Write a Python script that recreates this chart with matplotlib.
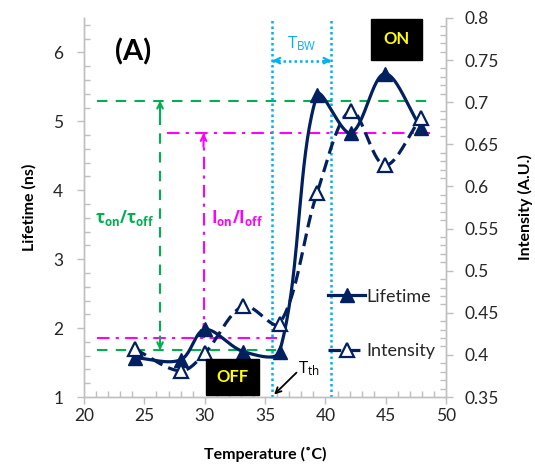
import numpy as np
import matplotlib
matplotlib.use("Agg")
import matplotlib.pyplot as plt
from matplotlib.lines import Line2D
from matplotlib.ticker import MultipleLocator, FormatStrFormatter

plt.rcParams["font.family"] = ["Lato", "DejaVu Sans"]
plt.rcParams["mathtext.fontset"] = "custom"
plt.rcParams["mathtext.rm"] = "Open Sans"
plt.rcParams["mathtext.bf"] = "Open Sans:bold"
plt.rcParams["mathtext.it"] = "Open Sans:italic"

# data
temp = [24.2, 28.0, 30.0, 33.2, 36.2, 39.3, 42.1, 44.9, 47.9]
lifetime = [1.57, 1.54, 1.98, 1.66, 1.66, 5.38, 4.83, 5.69, 4.91]
intensity = [0.407, 0.381, 0.402, 0.458, 0.437, 0.592, 0.690, 0.625, 0.681]

# guide levels (left axis units) and transition temperatures
tau_on, tau_off = 5.30, 1.68
i_on, i_off = 4.83, 1.86
t_th, t_end = 35.6, 40.5

NAVY = "#002060"
GREEN = "#00b050"
MAGENTA = "#ff00ff"
CYAN = "#00b0f0"
GREY = "#bfbfbf"
TXT = "#262626"


def smooth(x, y, xspan, yspan, n=40):
    # Excel-like smoothed line: cubic Bezier through the points with
    # chord-length scaled tangents, computed in screen-like units
    sx, sy = 362.0 / xspan, 379.0 / yspan
    p = np.column_stack([np.asarray(x, float) * sx, np.asarray(y, float) * sy])
    m = len(p)
    d = np.linalg.norm(np.diff(p, axis=0), axis=1)
    tang = np.zeros_like(p)
    for i in range(m):
        if i == 0:
            tang[i] = (p[1] - p[0]) / d[0]
        elif i == m - 1:
            tang[i] = (p[-1] - p[-2]) / d[-1]
        else:
            tang[i] = (p[i + 1] - p[i - 1]) / (d[i - 1] + d[i])
    t = np.linspace(0, 1, n)[:, None]
    segs = []
    for i in range(m - 1):
        b0, b3 = p[i], p[i + 1]
        b1 = b0 + tang[i] * d[i] / 3
        b2 = b3 - tang[i + 1] * d[i] / 3
        segs.append((1 - t) ** 3 * b0 + 3 * (1 - t) ** 2 * t * b1
                    + 3 * (1 - t) * t ** 2 * b2 + t ** 3 * b3)
    c = np.vstack(segs)
    return c[:, 0] / sx, c[:, 1] / sy


fig = plt.figure(figsize=(5.35, 4.71), dpi=100)
ax = fig.add_axes([0.157, 0.157, 0.677, 0.805])
ax2 = ax.twinx()

ax.set_xlim(20, 50)
ax.set_ylim(1, 6.5)
ax2.set_ylim(0.35, 0.8)
ax.xaxis.set_major_locator(MultipleLocator(5))
ax.xaxis.set_minor_locator(MultipleLocator(1))
ax.yaxis.set_major_locator(MultipleLocator(1))
ax.yaxis.set_minor_locator(MultipleLocator(0.2))
ax2.yaxis.set_major_locator(MultipleLocator(0.05))
ax2.yaxis.set_minor_locator(MultipleLocator(0.01))
ax2.yaxis.set_major_formatter(FormatStrFormatter("%g"))

for a in (ax, ax2):
    for s in a.spines.values():
        s.set_color(GREY)
        s.set_linewidth(1.0)
    a.spines["top"].set_visible(False)
    a.tick_params(which="major", direction="out", length=5, color=GREY,
                  labelsize=12.5, labelcolor=TXT, width=1)
    a.tick_params(which="minor", direction="in", length=4, color=GREY,
                  width=1)
ax.tick_params(axis="x", pad=3)
ax.tick_params(axis="y", pad=10)
ax2.tick_params(axis="y", pad=8)

ax.set_xlabel("Temperature (˚C)", fontsize=11.5, fontweight="bold",
              labelpad=16)
ax.set_ylabel("Lifetime (ns)", fontsize=11.5, fontweight="bold", labelpad=12)
ax2.set_ylabel("Intensity (A.U.)", fontsize=11.5, fontweight="bold",
               labelpad=14)

# guide lines
ax.plot([21.1, 48.7], [tau_on, tau_on], ls=(0, (5, 4)), color=GREEN, lw=1.5)
ax.plot([21.1, 36.0], [tau_off, tau_off], ls=(0, (5, 4)), color=GREEN, lw=1.5)
ax.plot([26.3, 26.3], [tau_off, tau_on], ls=(0, (5, 4)), color=GREEN, lw=1.5)
for y0, y1 in ((tau_on - 0.2, tau_on), (tau_off + 0.2, tau_off)):
    ax.annotate("", xy=(26.3, y1), xytext=(26.3, y0),
                arrowprops=dict(arrowstyle="->", color=GREEN, lw=1.5,
                                shrinkA=0, shrinkB=0))
ax.plot([26.9, 48.7], [i_on, i_on], ls=(0, (6, 3, 1.5, 3)), color=MAGENTA,
        lw=1.5)
ax.plot([21.1, 36.0], [i_off, i_off], ls=(0, (6, 3, 1.5, 3)), color=MAGENTA,
        lw=1.5)
ax.plot([29.9, 29.9], [i_off, i_on], ls=(0, (6, 3, 1.5, 3)), color=MAGENTA,
        lw=1.5)
for y0, y1 in ((i_on - 0.2, i_on), (i_off + 0.2, i_off)):
    ax.annotate("", xy=(29.9, y1), xytext=(29.9, y0),
                arrowprops=dict(arrowstyle="->", color=MAGENTA, lw=1.5,
                                shrinkA=0, shrinkB=0))
ax.text(25.8, 3.6, r"$\mathbf{\tau_{on}/\tau_{off}}$", color=GREEN,
        fontsize=12, ha="right", va="center")
ax.text(30.5, 3.6, r"$\mathbf{I_{on}/I_{off}}$", color=MAGENTA,
        fontsize=12, ha="left", va="center")

# transition band
for xv in (t_th, t_end):
    ax.axvline(xv, color=CYAN, ls=(0, (1, 1.2)), lw=1.8)
ax.plot([t_th, t_end], [5.88, 5.88], color=CYAN, ls=(0, (1, 1.2)), lw=1.8)
for x0, x1 in ((t_th + 0.6, t_th), (t_end - 0.6, t_end)):
    ax.annotate("", xy=(x1, 5.88), xytext=(x0, 5.88),
                arrowprops=dict(arrowstyle="->", color=CYAN, lw=1.5,
                                shrinkA=0, shrinkB=0))
ax.text((t_th + t_end) / 2, 6.13, r"$\mathrm{T_{BW}}$", color=CYAN,
        fontsize=12, ha="center", va="center")

# data
lx, ly = smooth(temp, lifetime, 30, 5.5)
ax2.plot(lx, ly, color=NAVY, lw=2.3, transform=ax.transData, zorder=3)
ax2.plot(temp, lifetime, ls="none", marker="^", ms=10, color=NAVY,
         transform=ax.transData, zorder=4)
ix, iy = smooth(temp, intensity, 30, 0.45)
ax2.plot(ix, iy, color=NAVY, lw=2.3, ls=(0, (4, 2)), zorder=3)
ax2.plot(temp, intensity, ls="none", marker="^", ms=10, mfc="white",
         mec=NAVY, mew=1.6, zorder=4)

# labels
ax.text(24.1, 6.0, "(A)", fontsize=21, fontweight="bold", ha="center",
        va="center", color="black")
ax2.text(45.9, 0.7745, "ON", fontsize=12, fontweight="bold",
         color="#ffff00", ha="center", va="center", zorder=6,
         bbox=dict(boxstyle="square,pad=0.75", fc="black", ec="black"))
ax2.text(32.3, 0.374, "OFF", fontsize=12, fontweight="bold",
         color="#ffff00", ha="center", va="center", zorder=6,
         bbox=dict(boxstyle="square,pad=0.6", fc="black", ec="black"))
ax2.text(37.75, 0.384, r"$\mathrm{T_{th}}$", fontsize=12, ha="left",
         va="center", color="black")
ax2.annotate("", xy=(35.75, 0.353), xytext=(37.6, 0.379),
             arrowprops=dict(arrowstyle="->", color="black", lw=1.3,
                             shrinkA=0, shrinkB=0))

handles = [
    Line2D([], [], color=NAVY, lw=2.3, marker="^", ms=10),
    Line2D([], [], color=NAVY, lw=2.3, ls=(0, (4, 2)), marker="^", ms=10,
           mfc="white", mec=NAVY, mew=1.6),
]
leg = ax2.legend(handles, ["Lifetime", "Intensity"], loc="upper left",
                 bbox_to_anchor=(0.655, 0.305), frameon=False, fontsize=13,
                 handlelength=2.0, handletextpad=0.1, labelspacing=2.15,
                 borderaxespad=0)
for t in leg.get_texts():
    t.set_color(TXT)

fig.savefig("out.png", dpi=100)
